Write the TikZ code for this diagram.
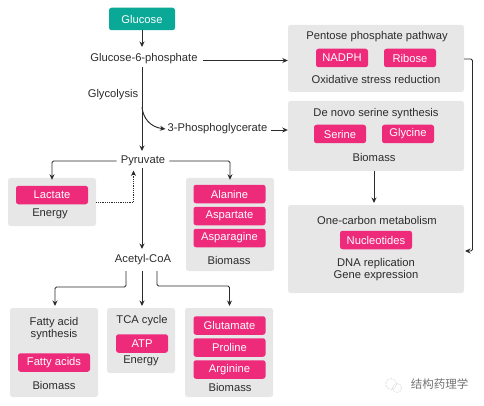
\documentclass[tikz,border=0pt]{standalone}
\usepackage{fontspec}
\setmainfont{Liberation Sans}
\newfontfamily\cjkwm{Noto Sans CJK SC}
\usetikzlibrary{arrows.meta}
\definecolor{boxgray}{HTML}{E7E7E8}
\definecolor{hotpink}{HTML}{EE2A7B}
\definecolor{teal1}{HTML}{0AA896}
\definecolor{ink}{HTML}{2B2B2B}
\tikzset{
  graybox/.style={fill=boxgray,rounded corners=2.5pt,inner sep=0pt},
  pinkbox/.style={fill=hotpink,rounded corners=2.5pt,inner sep=0pt,text=white,minimum width=72pt,minimum height=18.5pt,font=\fontsize{11.2}{12}\selectfont},
  lbl/.style={text=ink,inner sep=2pt,font=\fontsize{11.2}{12}\selectfont,align=center},
  conn/.style={draw=ink,line width=0.95pt,-{Stealth[length=5.5pt,width=5pt]},rounded corners=1.5pt},
  dotconn/.style={conn,line width=0.8pt,densely dotted,rounded corners=0pt},
}
\begin{document}
\begin{tikzpicture}[x=1pt,y=-1pt]
\useasboundingbox (0,0) rectangle (484,406);
% grey panels
\node[graybox,minimum width=88pt,minimum height=48pt] (lacB) at (52,202) {};
\node[graybox,minimum width=88pt,minimum height=93pt] (alaB) at (230,224.5) {};
\node[graybox,minimum width=88pt,minimum height=89pt] (fatB) at (54,352.5) {};
\node[graybox,minimum width=68pt,minimum height=65pt] (tcaB) at (141,340.5) {};
\node[graybox,minimum width=88pt,minimum height=89pt] (gluB) at (229,352.5) {};
\node[graybox,minimum width=176pt,minimum height=67pt] (pppB) at (376,58.5) {};
\node[graybox,minimum width=176pt,minimum height=70pt] (serB) at (376,136) {};
\node[graybox,minimum width=176pt,minimum height=88pt] (oneB) at (376,249) {};
% metabolites on the main path
\node[fill=teal1,rounded corners=2.5pt,text=white,minimum width=66pt,minimum height=22.5pt,inner sep=0pt,font=\fontsize{11.2}{12}\selectfont] (glc) at (142,19) {Glucose};
\node[lbl] (g6p) at (144,58.5) {Glucose-6-phosphate};
\node[lbl] (gly) at (113,95) {Glycolysis};
\node[lbl] (pg3) at (217.5,129) {3-Phosphoglycerate};
\node[lbl] (pyr) at (143,160.5) {Pyruvate};
\node[lbl] (aca) at (143,259.5) {Acetyl-CoA};
% lactate
\node[pinkbox] (lac) at (52,195) {Lactate};
\node[lbl] at (50,214) {Energy};
% alanine group
\node[pinkbox] (ala) at (229.5,194) {Alanine};
\node[pinkbox] (asp) at (229.5,216) {Aspartate};
\node[pinkbox] (asn) at (229.5,238) {Asparagine};
\node[lbl] at (229,260) {Biomass};
% fatty acids
\node[lbl] at (54,329) {Fatty acid\\synthesis};
\node[pinkbox] (fa) at (54,362.5) {Fatty acids};
\node[lbl] at (54,385) {Biomass};
% TCA
\node[lbl] at (142,321) {TCA cycle};
\node[pinkbox,minimum width=52pt] (atp) at (142,343.5) {ATP};
\node[lbl] at (141,361) {Energy};
% glutamate group
\node[pinkbox] (glu) at (229.5,325.5) {Glutamate};
\node[pinkbox] (pro) at (229.5,347.5) {Proline};
\node[pinkbox] (arg) at (229.5,369.5) {Arginine};
\node[lbl] at (230,387) {Biomass};
% pentose phosphate
\node[lbl] at (377,37) {Pentose phosphate pathway};
\node[pinkbox,minimum width=52pt] (nad) at (342,58) {NADPH};
\node[pinkbox,minimum width=52pt] (rib) at (410,58) {Ribose};
\node[lbl] at (376,79) {Oxidative stress reduction};
% serine
\node[lbl] at (376,114) {De novo serine synthesis};
\node[pinkbox,minimum width=52pt] (ser) at (340,134) {Serine};
\node[pinkbox,minimum width=52pt] (gly2) at (408,134) {Glycine};
\node[lbl] at (374,157) {Biomass};
% one carbon
\node[lbl] at (377,220) {One-carbon metabolism};
\node[pinkbox] (nuc) at (376,240) {Nucleotides};
\node[lbl] at (376,270) {DNA replication\\Gene expression};
% connectors
\coordinate (bend) at (142,107);
\draw[conn] (glc.south) -- (142,47);
\draw[conn] (g6p.east) ++(3,2) coordinate (g6pR) -- (g6pR -| pppB.west);
\draw[conn] (142,67) -- (142,151);
\draw[conn,rounded corners=0pt] (bend) .. controls (143,118) and (150,127) .. (pg3.west);
\draw[conn] (pg3.east) ++(1,1) coordinate (pgR) -- (pgR -| serB.west);
\draw[conn] (pyr.west) ++(-2,0.5) coordinate (pyrL) -| ([yshift=-2pt]lacB.north);
\draw[conn] (pyr.east) ++(2,0.5) coordinate (pyrR) -| ([yshift=-2pt]alaB.north);
\draw[dotconn] (lacB.east |- 0,202) coordinate (lacR) -- (133.5,202) -- (133.5,170.5);
\draw[conn] (142,168) -- (142,249);
\coordinate (acaL) at (126,271);
\coordinate (acaM) at (142,271);
\coordinate (acaR) at (157,271);
\draw[conn] (acaL) -- (126,287) -- (55,287) -- (55,306);
\draw[conn] (acaM) -- (142,306);
\draw[conn] (acaR) -- (157,286) -- (229.5,286) -- (229.5,306);
\draw[conn] (374,171) -- (374,203);
\coordinate (pppR) at (464,59);
\coordinate (oneR) at (465,251);
\draw[conn] (pppR) -- (472.5,59) -- (472.5,251) -- (oneR);
% watermark
\node[text=black!55,inner sep=0pt,font=\cjkwm\fontsize{11.5}{12}\selectfont] (wm) at (439.5,384) {结构药理学};
\draw[black!30,line width=0.5pt,densely dotted] (391,384) circle (5.5pt) (397,388) circle (4.5pt);
\end{tikzpicture}
\end{document}
